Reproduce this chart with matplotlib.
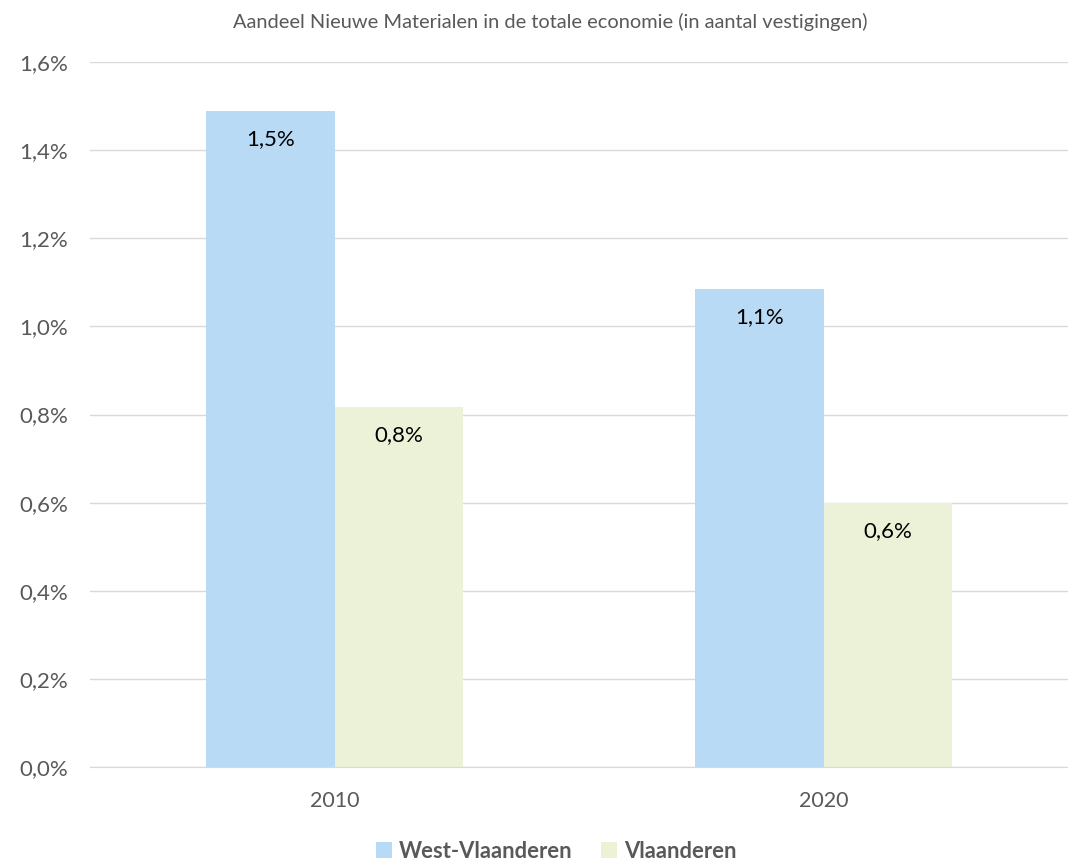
import matplotlib
matplotlib.use("Agg")
import matplotlib.pyplot as plt
from matplotlib.ticker import FuncFormatter
import numpy as np

categories = ["2010", "2020"]
series_names = ["West-Vlaanderen", "Vlaanderen"]
west_vl = [1.489, 1.085]
vlaanderen = [0.817, 0.599]
title = "Aandeel Nieuwe Materialen in de totale economie (in aantal vestigingen)"

colors = ["#B9DAF5", "#EBF2D8"]
grey = "#595959"
plt.rcParams['font.family'] = ['Lato', 'DejaVu Sans']

fig = plt.figure(figsize=(10.68, 8.61), dpi=100)
ax = fig.add_axes([90/1068, (861-767)/861, (1068-90)/1068, 705/861])

x = np.arange(len(categories))
w = 0.262
b1 = ax.bar(x - w/2, west_vl, w, color=colors[0], label=series_names[0], zorder=2)
b2 = ax.bar(x + w/2, vlaanderen, w, color=colors[1], label=series_names[1], zorder=2)

for bars, vals in ((b1, west_vl), (b2, vlaanderen)):
    for r, v in zip(bars, vals):
        ax.annotate(f"{v:.1f}".replace(".", ",") + "%",
                    (r.get_x() + r.get_width()/2, v), xytext=(0, -28),
                    textcoords="offset pixels",
                    ha="center", va="center", fontsize=16, color="black")

ax.set_xlim(-0.5, 1.5)
ax.set_ylim(0, 1.6)
ax.set_yticks(np.arange(0, 1.61, 0.2))
ax.yaxis.set_major_formatter(FuncFormatter(lambda v, p: f"{v:.1f}".replace(".", ",") + "%"))
ax.set_xticks(x)
ax.set_xticklabels(categories)
ax.grid(axis="y", color="#D9D9D9", linewidth=1, zorder=0)
for s in ["top", "right", "left"]:
    ax.spines[s].set_visible(False)
ax.spines["bottom"].set_color("#D9D9D9")
ax.tick_params(axis="both", length=0, labelsize=16, labelcolor=grey)
ax.tick_params(axis="x", labelsize=15.5, pad=17)
ax.tick_params(axis="y", pad=16)

fig.text(550/1068, 1 - 22/861, title, ha="center", va="center", fontsize=14.4, color=grey)

leg = fig.legend(loc="center", bbox_to_anchor=(556/1068, 1 - 851/861), ncol=2, frameon=False,
                 handlelength=0.75, handleheight=0.75, handletextpad=0.3, columnspacing=1.3,
                 prop={"size": 15.8, "weight": "bold"})
for t in leg.get_texts():
    t.set_color(grey)

fig.savefig("out.png", dpi=100)
